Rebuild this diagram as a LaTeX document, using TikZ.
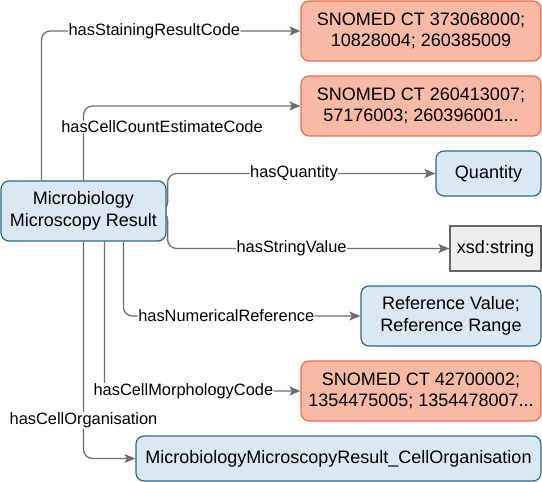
\documentclass[tikz,border=0pt]{standalone}
\usepackage{fontspec}
\setmainfont{Liberation Sans}
\usetikzlibrary{arrows.meta,backgrounds}
\definecolor{bluefill}{HTML}{DAE8F2}
\definecolor{bluedraw}{HTML}{2B6A85}
\definecolor{salfill}{HTML}{F8BAA4}
\definecolor{saldraw}{HTML}{EA6B55}
\definecolor{grayfill}{HTML}{EEEEEE}
\definecolor{graydraw}{HTML}{666666}
\definecolor{edgecol}{HTML}{6E6E6E}
\tikzset{
  box/.style={draw, line width=1.2bp, rounded corners=8bp, inner sep=0pt, align=center,
    font=\fontsize{18bp}{21.5bp}\selectfont},
  bluebox/.style={box, fill=bluefill, draw=bluedraw},
  salbox/.style={box, fill=salfill, draw=saldraw, minimum width=240bp, minimum height=60bp},
  graybox/.style={box, rounded corners=0pt, fill=grayfill, draw=graydraw},
  edge/.style={draw=edgecol, line width=1.3bp, rounded corners=9bp,
    -{Stealth[length=11bp,width=9bp,inset=2.5bp]}},
  lbl/.style={fill=white, inner sep=0.5bp, font=\fontsize{16.4bp}{19bp}\selectfont, text=black}
}
\begin{document}
\begin{tikzpicture}[x=1bp,y=-1bp]
\useasboundingbox (0,0) rectangle (542,482);
\node[bluebox, minimum width=165bp, minimum height=60bp] (main) at (83.5,211) {Microbiology\\Microscopy Result};
\node[salbox] (s1) at (421,31) {SNOMED CT 373068000;\\10828004; 260385009};
\node[salbox] (s2) at (421,106) {SNOMED CT 260413007;\\57176003; 260396001...};
\node[bluebox, minimum width=105bp, minimum height=45bp] (q) at (488.5,173.5) {Quantity};
\node[graybox, minimum width=91bp, minimum height=45bp] (xs) at (495.5,248.5) {xsd:string};
\node[bluebox, minimum width=180bp, minimum height=60bp] (r) at (451,316) {Reference Value;\\Reference Range};
\node[salbox] (s3) at (421,391) {SNOMED CT 42700002;\\1354475005; 1354478007...};
\node[bluebox, minimum width=405bp, minimum height=45bp] (c) at (338.5,458.5) {MicrobiologyMicroscopyResult\_CellOrganisation};
\begin{scope}[on background layer]
\draw[edge] ([xshift=41bp]main.north west) |- node[lbl, pos=0.718] {hasStainingResultCode} (s1.west);
\draw[edge] (main.north) |- node[lbl, pos=0.36, xshift=78.5bp] {hasCellCountEstimateCode} (s2.west);
\draw[edge] (main.east) -- ++(1,0) |- node[lbl, pos=0.736] {hasQuantity} (q.west);
\draw[edge] (main.east) -- ++(1,0) |- node[lbl, pos=0.72] {hasStringValue} (xs.west);
\draw[edge] ([xshift=123bp]main.south west) |- node[lbl, pos=0.717] {hasNumericalReference} (r.west);
\draw[edge] ([xshift=104bp]main.south west) |- node[lbl, pos=0.7015] {hasCellMorphologyCode} (s3.west);
\draw[edge] (main.south) |- node[lbl, pos=0.4126] {hasCellOrganisation} (c.west);
\end{scope}
\end{tikzpicture}
\end{document}
